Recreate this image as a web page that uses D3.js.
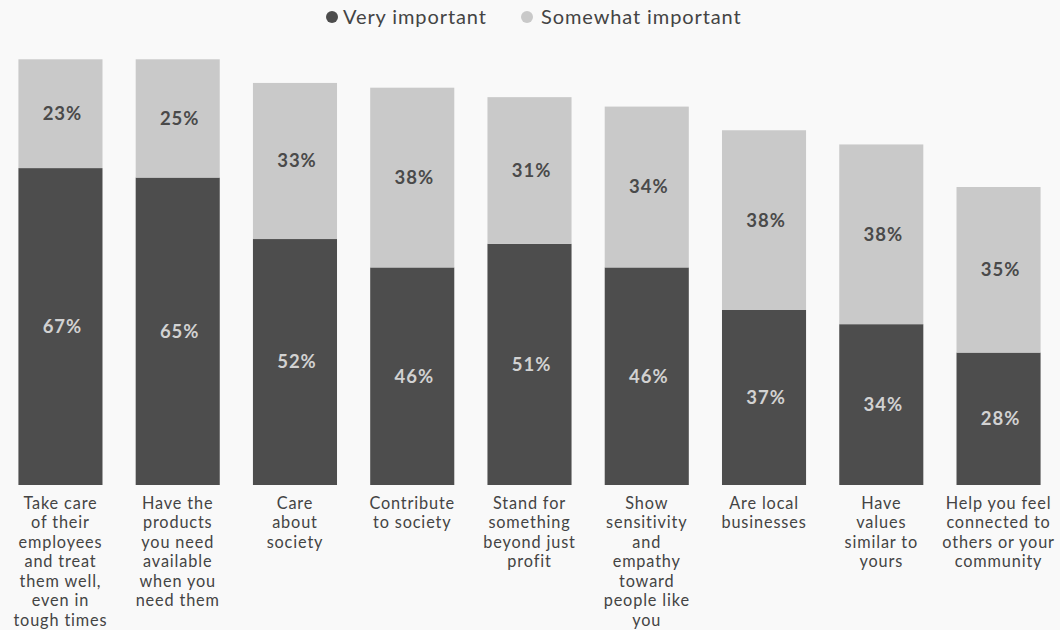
<!DOCTYPE html>
<html>
<head>
<meta charset="utf-8">
<script src="https://cdn.jsdelivr.net/npm/d3@7"></script>
<style>
  html, body { margin: 0; padding: 0; background: #f9f9f9; }
  svg { display: block; font-family: "Lato", "Open Sans", sans-serif; }
</style>
</head>
<body>
<svg id="chart" width="1060" height="630"></svg>
<script>
// Share of respondents rating each brand trait, stacked by importance
const categories = [
  ["Take care", "of their", "employees", "and treat", "them well,", "even in", "tough times"],
  ["Have the", "products", "you need", "available", "when you", "need them"],
  ["Care", "about", "society"],
  ["Contribute", "to society"],
  ["Stand for", "something", "beyond just", "profit"],
  ["Show", "sensitivity", "and", "empathy", "toward", "people like", "you"],
  ["Are local", "businesses"],
  ["Have", "values", "similar to", "yours"],
  ["Help you feel", "connected to", "others or your", "community"]
];
const veryImportant     = [67, 65, 52, 46, 51, 46, 37, 34, 28];
const somewhatImportant = [23, 25, 33, 38, 31, 34, 38, 38, 35];
const seriesNames = ["Very important", "Somewhat important"];
const seriesColors = ["#4d4d4d", "#c9c9c9"];
const labelColors = ["#d2d2d2", "#4a4a4a"];

const svg = d3.select("#chart");
const keys = categories.map((c, i) => i);

const rows = keys.map(i => ({
  key: i,
  very: veryImportant[i],
  somewhat: somewhatImportant[i]
}));

const stack = d3.stack().keys(["very", "somewhat"]);
const layers = stack(rows);

const x = d3.scaleBand()
  .domain(keys)
  .range([2, 1057])
  .paddingInner(0.283)
  .paddingOuter(0.14);

const y = d3.scaleLinear()
  .domain([0, 90])
  .range([485, 59.3]);

const g = svg.append("g");

layers.forEach((layer, li) => {
  const lg = g.append("g").attr("fill", seriesColors[li]);
  lg.selectAll("rect")
    .data(layer)
    .join("rect")
    .attr("x", d => x(d.data.key))
    .attr("width", x.bandwidth())
    .attr("y", d => y(d[1]))
    .attr("height", d => y(d[0]) - y(d[1]));

  g.append("g").selectAll("text")
    .data(layer)
    .join("text")
    .attr("x", d => x(d.data.key) + x.bandwidth() / 2 + 2)
    .attr("y", d => (y(d[0]) + y(d[1])) / 2)
    .attr("dy", "0.35em")
    .attr("text-anchor", "middle")
    .attr("font-size", 18.5)
    .attr("font-weight", 700)
    .attr("letter-spacing", 1)
    .attr("fill", labelColors[li])
    .text(d => (d[1] - d[0]) + "%");
});

// Category labels under each bar
const xAxis = g.append("g").attr("transform", `translate(0, ${y(0)})`);
xAxis.selectAll("text")
  .data(rows)
  .join("text")
  .attr("text-anchor", "middle")
  .attr("font-size", 16.3)
  .attr("letter-spacing", 0.85)
  .attr("fill", "#444")
  .attr("transform", d => `translate(${x(d.key) + x.bandwidth() / 2}, 0)`)
  .each(function(d) {
    const t = d3.select(this);
    categories[d.key].forEach((line, li) => {
      t.append("tspan")
        .attr("x", 0)
        .attr("y", 23.5 + li * 19.5)
        .text(line);
    });
  });

// Legend
const legend = svg.append("g").attr("transform", "translate(0, 17)");
const legendItems = [
  { name: seriesNames[0], color: seriesColors[0], cx: 332, tx: 343 },
  { name: seriesNames[1], color: seriesColors[1], cx: 527, tx: 541 }
];
legendItems.forEach(item => {
  legend.append("circle")
    .attr("cx", item.cx)
    .attr("cy", 0)
    .attr("r", 6)
    .attr("fill", item.color);
  legend.append("text")
    .attr("x", item.tx)
    .attr("y", 0)
    .attr("dy", "0.35em")
    .attr("font-size", 20)
    .attr("letter-spacing", 0.9)
    .attr("fill", "#444")
    .text(item.name);
});
</script>
</body>
</html>
